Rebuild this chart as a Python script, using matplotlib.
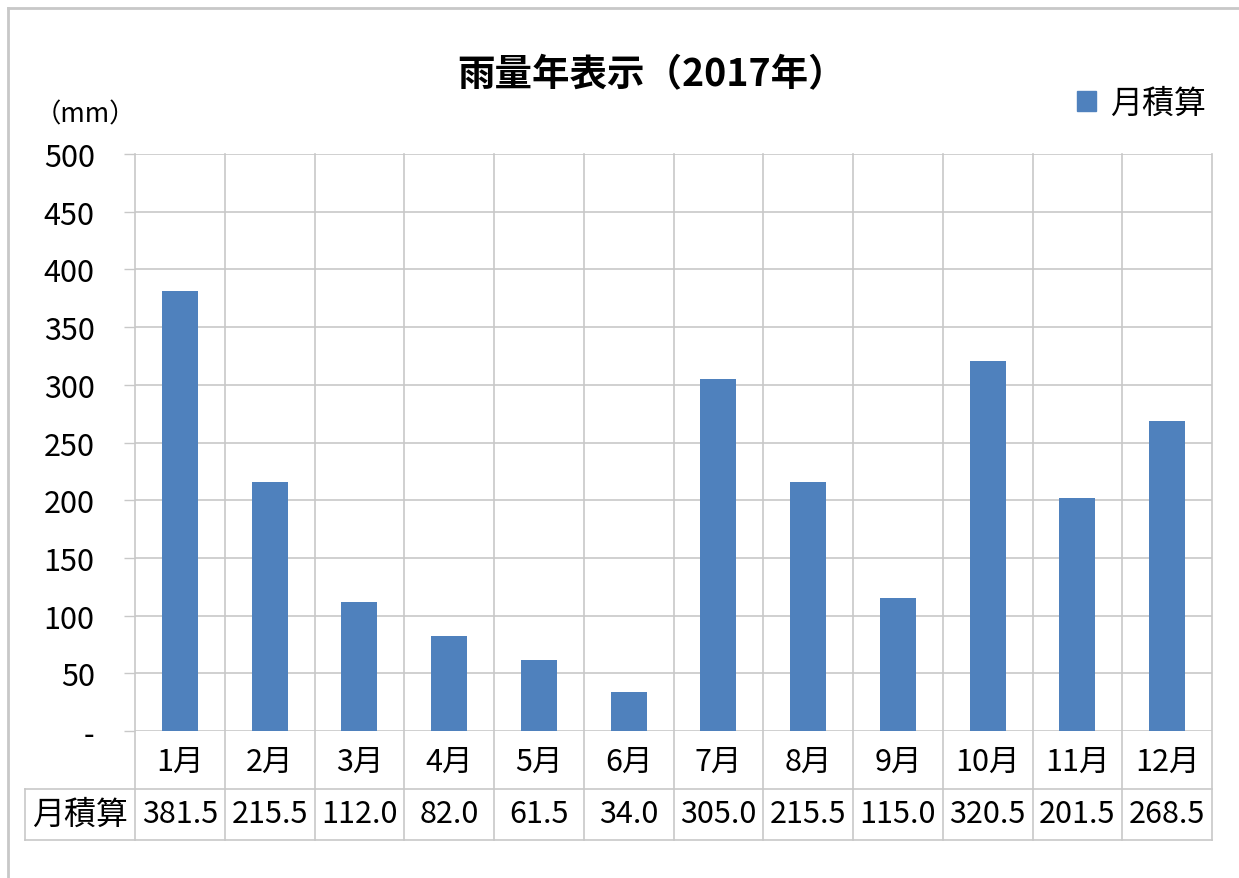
import matplotlib
matplotlib.use('Agg')
import matplotlib.pyplot as plt
from matplotlib.lines import Line2D
from matplotlib.patches import Patch

plt.rcParams['font.family'] = ['Noto Sans CJK JP', 'DejaVu Sans']

months = ['1月', '2月', '3月', '4月', '5月', '6月', '7月', '8月', '9月', '10月', '11月', '12月']
rain = [381.5, 215.5, 112.0, 82.0, 61.5, 34.0, 305.0, 215.5, 115.0, 320.5, 201.5, 268.5]
series_name = '月積算'
title = '雨量年表示（2017年）'
unit = '（mm）'
yticks = [0, 50, 100, 150, 200, 250, 300, 350, 400, 450, 500]

W, H = 1239, 879
bar_color = '#4F81BD'
grid_color = '#C8C8C8'
fs = 22

fig = plt.figure(figsize=(W / 100, H / 100), dpi=100)
ax = fig.add_axes([135 / W, (H - 732) / H, 1077 / W, 577 / H])

x = list(range(len(months)))
ax.bar(x, rain, width=0.4, color=bar_color, zorder=3)
ax.set_xlim(-0.5, len(months) - 0.5)
ax.set_ylim(0, 500)

for s in ax.spines.values():
    s.set_visible(False)
ax.set_yticks(yticks)
ax.set_yticklabels(['-' if v == 0 else str(v) for v in yticks], fontsize=fs)
ax.tick_params(axis='y', length=8, width=1, color=grid_color, pad=21)
ax.set_xticks([])
ax.yaxis.grid(True, color=grid_color, lw=1.2, zorder=0)
ax.set_axisbelow(True)

trans = ax.get_xaxis_transform()
ph = 577.0
y_row1 = -(790 - 732) / ph
y_row2 = -(841 - 732) / ph
left_cell = -0.5 - 110 / 89.75

# vertical lines: category boundaries, through the table
for i in range(len(months) + 1):
    ax.plot([i - 0.5, i - 0.5], [1, y_row2], transform=trans, color=grid_color,
            lw=1.2, clip_on=False, zorder=1)
ax.plot([left_cell, left_cell], [y_row1, y_row2], transform=trans, color=grid_color,
        lw=1.2, clip_on=False)
for yy in (y_row1, y_row2):
    ax.plot([left_cell, len(months) - 0.5], [yy, yy], transform=trans, color=grid_color,
            lw=1.2, clip_on=False)

# table text
for i, (m, v) in enumerate(zip(months, rain)):
    ax.text(i, -(762 - 732) / ph, m, transform=trans, ha='center', va='center', fontsize=fs)
    ax.text(i, -(815 - 732) / ph, f'{v:.1f}', transform=trans, ha='center', va='center', fontsize=fs)
ax.text((left_cell - 0.5) / 2, -(815 - 732) / ph, series_name, transform=trans,
        ha='center', va='center', fontsize=23)

fig.text(652 / W, 1 - 75 / H, title, ha='center', va='center', fontsize=27, fontweight='bold')
fig.text(85 / W, 1 - 115 / H, unit, ha='center', va='center', fontsize=19)

fig.legend([Patch(color=bar_color)], [series_name], loc='center left',
           bbox_to_anchor=(1077 / W, 1 - 104 / H), frameon=False, fontsize=23,
           handlelength=0.6, handleheight=0.6, handletextpad=0.45, borderpad=0, borderaxespad=0)

# outer frame (top and left edges)
fig.add_artist(Line2D([8 / W, 1], [1 - 9 / H, 1 - 9 / H], color='#C8C8C8', lw=2))
fig.add_artist(Line2D([8 / W, 8 / W], [0, 1 - 9 / H], color='#C8C8C8', lw=2))

fig.savefig('out.png', dpi=100)
